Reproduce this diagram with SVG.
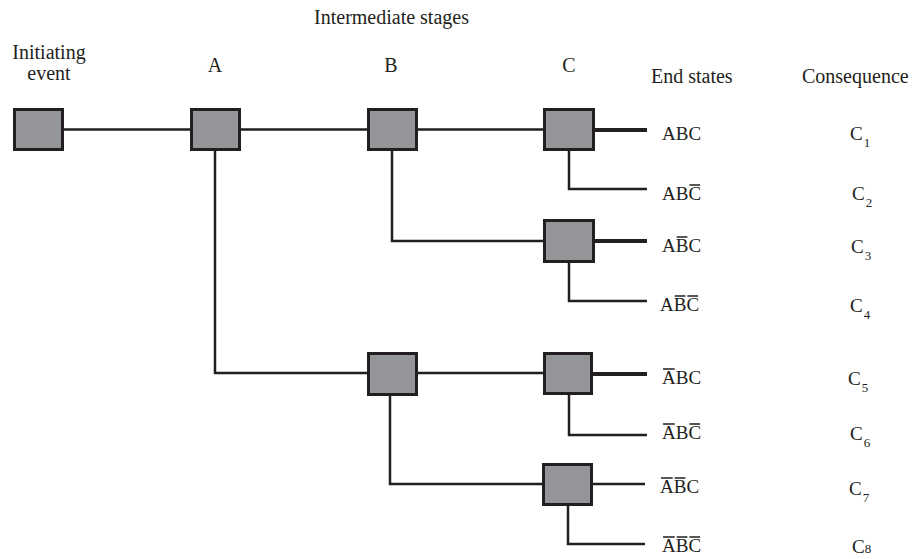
<svg xmlns="http://www.w3.org/2000/svg" width="913" height="559" viewBox="0 0 913 559">
<style>
text{font-family:"Liberation Serif","Times New Roman",serif;fill:#231f20}
.h{font-size:20px}
.l{font-size:19px}
.sub{font-size:13px}
.box{fill:#939598;stroke:#231f20;stroke-width:3}
.c{fill:none;stroke:#231f20;stroke-width:2.5}
.t{fill:none;stroke:#231f20;stroke-width:4}
.bar{fill:none;stroke:#231f20;stroke-width:1.3}
</style>
<rect width="913" height="559" fill="#fff"/>
<g id="headers">
<text class="h" x="391.5" y="24" text-anchor="middle">Intermediate stages</text>
<text class="h" x="49" y="59" text-anchor="middle">Initiating</text>
<text class="h" x="49" y="80" text-anchor="middle">event</text>
<text class="h" x="215" y="72" text-anchor="middle">A</text>
<text class="h" x="391" y="72" text-anchor="middle">B</text>
<text class="h" x="569" y="72" text-anchor="middle">C</text>
<text class="h" x="651" y="83">End states</text>
<text class="h" x="802" y="83">Consequence</text>
</g>
<g id="connectors">
<path class="c" d="M64 129.5H190M241 129.5H367M418 129.5H543"/>
<path class="t" d="M595 130H647"/>
<path class="c" d="M569 151V189H647"/>
<path class="c" d="M392 151V241H543"/>
<path class="t" d="M595 241H647"/>
<path class="c" d="M569 263V301H647"/>
<path class="c" d="M215 151V373H367M418 373H543"/>
<path class="t" d="M593 374H647"/>
<path class="c" d="M569 395V435H647"/>
<path class="c" d="M390 396V484H542M593 484H645"/>
<path class="c" d="M568 506V544H645"/>
</g>
<g id="node-initiating"><rect class="box" x="14.5" y="109.5" width="48" height="40"/></g>
<g id="node-A"><rect class="box" x="191.5" y="109.5" width="48" height="40"/></g>
<g id="node-B1"><rect class="box" x="368.5" y="109.5" width="48" height="40"/></g>
<g id="node-C1"><rect class="box" x="544.5" y="109.5" width="49" height="40"/></g>
<g id="node-C2"><rect class="box" x="544.5" y="220.5" width="49" height="41"/></g>
<g id="node-B2"><rect class="box" x="368.5" y="353.5" width="48" height="41"/></g>
<g id="node-C3"><rect class="box" x="544.5" y="353.5" width="47" height="40"/></g>
<g id="node-C4"><rect class="box" x="543.5" y="464.5" width="48" height="40"/></g>
<g id="end-states">
<text class="l" x="662" y="140">ABC</text>
<text class="l" x="662" y="200">ABC</text>
<text class="l" x="662" y="252">ABC</text>
<text class="l" x="660" y="311">ABC</text>
<text class="l" x="662" y="384">ABC</text>
<text class="l" x="662" y="439">ABC</text>
<text class="l" x="660" y="493">ABC</text>
<text class="l" x="662" y="552">ABC</text>
<path class="bar" d="M689.4 185H700.1M676.7 237H687.4M674.7 296H685.4M687.4 296H698.1M663 369H674.7M663 424H674.7M689.4 424H700.1M661 478H672.7M674.7 478H685.4M663 537H674.7M676.7 537H687.4M689.4 537H700.1"/>
</g>
<g id="consequences">
<text class="l" x="850" y="140">C<tspan class="sub" dx="1" dy="7">1</tspan></text>
<text class="l" x="852" y="200">C<tspan class="sub" dx="1" dy="7">2</tspan></text>
<text class="l" x="851" y="253">C<tspan class="sub" dx="1" dy="7">3</tspan></text>
<text class="l" x="850" y="312">C<tspan class="sub" dx="1" dy="7">4</tspan></text>
<text class="l" x="848" y="385">C<tspan class="sub" dx="1" dy="7">5</tspan></text>
<text class="l" x="850" y="440">C<tspan class="sub" dx="1" dy="7">6</tspan></text>
<text class="l" x="849" y="495">C<tspan class="sub" dx="1" dy="7">7</tspan></text>
<text class="l" x="852" y="553">C<tspan class="sub">8</tspan></text>
</g>
</svg>
